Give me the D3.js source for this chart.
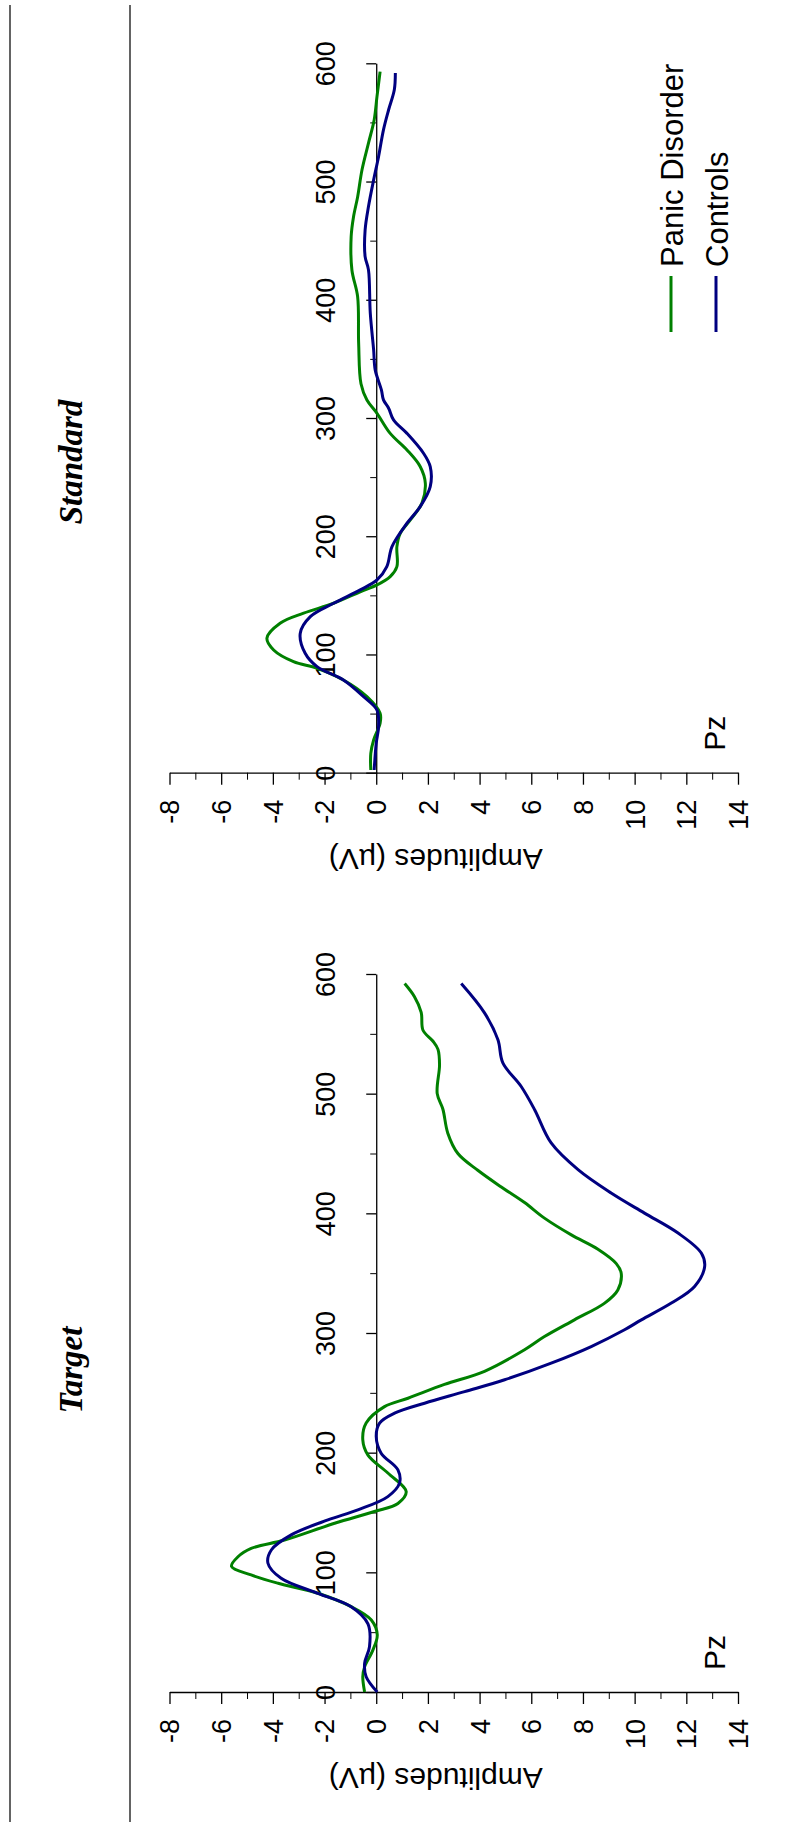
<!DOCTYPE html>
<html>
<head>
  <script src="https://d3js.org/d3.v7.min.js"></script>
  <style>
    body {
      margin: 0;
      background-color: #ffffff;
      overflow: hidden;
    }
    text {
      font-family: "Liberation Sans", Arial, sans-serif;
    }
  </style>
</head>
<body>
  <script>
    // ERP waveforms at Pz (time in ms, amplitude in µV)
    const targetPanicTime = [0, 12.8, 21, 35, 47.7, 60.2, 71.3, 82.5, 90.9, 97.8, 105, 113, 120, 127, 141, 150.8, 157.5, 167.5, 183, 198, 210.7, 224.7, 238.5, 245.5, 257, 268, 286, 297, 311, 325, 336, 350, 358, 370, 382, 396, 409, 422, 436, 450, 467, 487, 500, 524, 537, 544, 553, 568, 581, 592];
    const targetPanicAmp = [-0.45, -0.52, -0.45, -0.13, 0.04, -0.19, -0.97, -2.26, -3.8, -4.84, -5.6, -5.35, -4.84, -3.55, -1.61, -0.07, 0.84, 1.16, 0.45, -0.32, -0.52, -0.39, 0.32, 1.23, 2.64, 4.19, 5.74, 6.51, 7.67, 8.84, 9.35, 9.48, 9.29, 8.58, 7.55, 6.51, 5.74, 4.84, 3.93, 3.16, 2.77, 2.58, 2.36, 2.45, 2.39, 2.19, 1.81, 1.74, 1.48, 1.1];

    const targetControlTime = [0, 12.8, 24, 37.9, 57, 71.3, 82.5, 95, 107.6, 118.7, 131.3, 143.8, 152.2, 163.3, 174.5, 185.6, 199.6, 213.5, 224.7, 233, 241.3, 251, 260.9, 274.8, 288.7, 302.7, 311, 325, 338.9, 355.6, 366.8, 383.5, 400.2, 417, 436.5, 458.8, 486.6, 506, 525.7, 545, 567.5, 592];
    const targetControlAmp = [0.04, -0.39, -0.45, -0.26, -0.32, -0.97, -2.26, -3.68, -4.19, -4.06, -3.29, -1.87, -0.71, 0.45, 0.9, 0.84, 0.19, 0, 0.13, 0.71, 1.87, 3.42, 4.97, 6.77, 8.32, 9.61, 10.26, 11.42, 12.32, 12.71, 12.58, 11.68, 10.38, 9.09, 7.81, 6.77, 6.13, 5.61, 4.9, 4.71, 4.19, 3.29];

    const standardPanicTime = [2.3, 16.4, 27.7, 41.8, 50.3, 64.3, 78.4, 88.3, 93.9, 103.8, 113.7, 126.4, 134.9, 143.3, 153, 158.8, 165.8, 174.3, 191.2, 202.5, 213.8, 228, 244.8, 259, 273, 287, 304, 315.3, 329, 363, 402.7, 425, 453.5, 470, 487, 510, 532.5, 552, 572, 593];
    const standardPanicAmp = [-0.21, -0.21, -0.1, 0.15, 0.15, -0.36, -1.27, -2.29, -3.2, -3.97, -4.23, -3.72, -2.81, -1.65, -0.62, 0.03, 0.54, 0.8, 0.8, 0.93, 1.32, 1.77, 1.9, 1.7, 1.19, 0.54, 0.03, -0.36, -0.59, -0.68, -0.72, -0.94, -0.97, -0.88, -0.72, -0.55, -0.3, -0.08, 0.03, 0.15];

    const standardControlTime = [2.3, 24.9, 38.9, 53, 64.3, 78.4, 89.7, 101, 118, 132, 143.3, 154.6, 163, 174.3, 191.2, 211, 225, 242, 258.9, 270.2, 287, 298.4, 308.3, 315.3, 323.8, 340.7, 357.6, 388.7, 425.3, 436.5, 459, 478.8, 501.4, 521, 543.7, 560.7, 577.6, 591.7];
    const standardControlAmp = [-0.08, 0, 0.09, 0.03, -0.49, -1.27, -2.29, -2.75, -2.94, -2.55, -1.65, -0.62, 0.03, 0.41, 0.61, 1.19, 1.7, 2.09, 2.09, 1.83, 1.19, 0.67, 0.48, 0.28, 0.2, -0.04, -0.1, -0.23, -0.3, -0.43, -0.43, -0.3, -0.1, 0.09, 0.28, 0.48, 0.7, 0.74];

    const ampTicks = [-8, -6, -4, -2, 0, 2, 4, 6, 8, 10, 12, 14];
    const ampMinorTicks = [-7, -5, -3, -1, 1, 3, 5, 7, 9, 11, 13];
    const timeTicks = [0, 100, 200, 300, 400, 500, 600];
    const timeMinorTicks = [50, 150, 250, 350, 450, 550];

    const seriesNames = ["Panic Disorder", "Controls"];
    const seriesColors = ["#008000", "#000080"];

    const width = 802;
    const height = 1822;

    const svg = d3.select("body").append("svg")
      .attr("width", width)
      .attr("height", height);

    // frame rules of the original table (drawn rotated)
    [10, 130].forEach(xv => {
      svg.append("line")
        .attr("x1", xv).attr("x2", xv)
        .attr("y1", 5).attr("y2", height)
        .attr("stroke", "#222")
        .attr("stroke-width", 1.4);
    });

    const x = d3.scaleLinear().domain([-8, 14]).range([169.5, 738]);

    const panels = [
      { title: "Standard", titleY: 462, yRange: [772.7, 63.3],
        series: [[standardPanicTime, standardPanicAmp], [standardControlTime, standardControlAmp]], legend: true },
      { title: "Target", titleY: 1370, yRange: [1692, 974],
        series: [[targetPanicTime, targetPanicAmp], [targetControlTime, targetControlAmp]], legend: false }
    ];

    panels.forEach(p => {
      const y = d3.scaleLinear().domain([0, 600]).range(p.yRange);
      const y0 = y(0);
      const g = svg.append("g");

      // title
      svg.append("text")
        .attr("transform", `translate(82,${p.titleY}) rotate(-90)`)
        .attr("text-anchor", "middle")
        .style("font-family", "'Liberation Serif', 'Times New Roman', serif")
        .style("font-weight", "bold")
        .style("font-style", "italic")
        .style("font-size", "33px")
        .text(p.title);

      // amplitude axis (minor then major)
      g.append("g")
        .attr("transform", `translate(0,${y0})`)
        .call(d3.axisBottom(x).tickValues(ampMinorTicks).tickSize(7).tickFormat(""))
        .call(a => a.select(".domain").remove());

      const ampAxis = g.append("g")
        .attr("transform", `translate(0,${y0})`)
        .call(d3.axisBottom(x).tickValues(ampTicks).tickSize(12).tickSizeOuter(0)
          .tickFormat(d => String(d)));
      ampAxis.select(".domain").attr("stroke-width", 1.3);
      ampAxis.selectAll(".tick line").attr("stroke-width", 1.3);
      ampAxis.selectAll(".tick text")
        .attr("transform", "rotate(-90)")
        .attr("text-anchor", "end")
        .attr("x", -27)
        .attr("y", 0)
        .attr("dy", "0.35em")
        .style("font-size", "27px")
        .style("font-family", "'Liberation Sans', Arial, sans-serif")
        .attr("fill", "#000");

      // time axis along amplitude zero
      g.append("g")
        .attr("transform", `translate(${x(0)},0)`)
        .call(d3.axisLeft(y).tickValues(timeMinorTicks).tickSize(6).tickFormat(""))
        .call(a => a.select(".domain").remove());

      const timeAxis = g.append("g")
        .attr("transform", `translate(${x(0)},0)`)
        .call(d3.axisLeft(y).tickValues(timeTicks).tickSize(10).tickSizeOuter(0)
          .tickFormat(d => String(d)));
      timeAxis.select(".domain").attr("stroke-width", 1.3);
      timeAxis.selectAll(".tick line").attr("stroke-width", 1.3);
      timeAxis.selectAll(".tick text")
        .attr("transform", "translate(-41,0) rotate(-90)")
        .attr("text-anchor", "middle")
        .attr("x", 0)
        .attr("y", 0)
        .attr("dy", 0)
        .style("font-size", "27px")
        .style("font-family", "'Liberation Sans', Arial, sans-serif")
        .attr("fill", "#000");

      // axis title, upside down
      svg.append("text")
        .attr("transform", `translate(${(x.range()[0] + x.range()[1]) / 2 - 18},${y0 + 76}) rotate(180)`)
        .attr("text-anchor", "middle")
        .style("font-size", "30px")
        .text("Amplitudes (\u00b5V)");

      // electrode label
      svg.append("text")
        .attr("transform", `translate(725,${y0 - 22}) rotate(-90)`)
        .attr("text-anchor", "start")
        .style("font-size", "30px")
        .text("Pz");

      // waveforms
      const line = d3.line()
        .x(d => x(d[1]))
        .y(d => y(d[0]))
        .curve(d3.curveCatmullRom);

      p.series.forEach((s, i) => {
        const pts = s[0].map((t, k) => [t, s[1][k]]);
        g.append("path")
          .datum(pts)
          .attr("fill", "none")
          .attr("stroke", seriesColors[i])
          .attr("stroke-width", 3)
          .attr("stroke-linejoin", "round")
          .attr("d", line);
      });

      if (p.legend) {
        const lg = svg.append("g");
        seriesNames.forEach((name, i) => {
          const lx = 671 + i * 45;
          lg.append("line")
            .attr("x1", lx).attr("x2", lx)
            .attr("y1", 276).attr("y2", 332)
            .attr("stroke", seriesColors[i])
            .attr("stroke-width", 3);
          lg.append("text")
            .attr("transform", `translate(${lx + 12},267) rotate(-90)`)
            .attr("text-anchor", "start")
            .style("font-size", "31px")
            .text(name);
        });
      }
    });
  </script>
</body>
</html>
